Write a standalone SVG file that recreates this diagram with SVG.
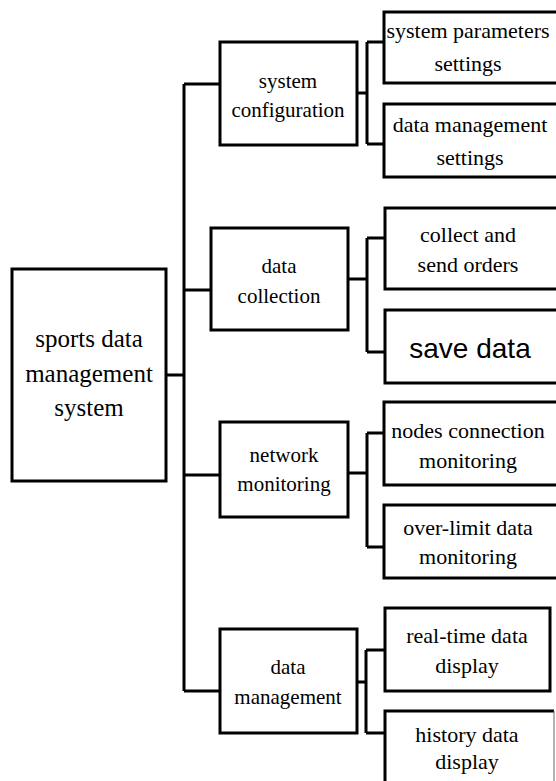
<svg xmlns="http://www.w3.org/2000/svg" width="556" height="781" viewBox="0 0 556 781">
<style>
.box{fill:#fff;stroke:#000;stroke-width:3}
.ln{fill:none;stroke:#000;stroke-width:3}
.t{font-family:'Liberation Serif','Times New Roman','DejaVu Serif',serif;fill:#000;text-anchor:middle}
.root{font-size:25px}
.mid{font-size:21px}
.leaf{font-size:22px}
.sans{font-family:'Liberation Sans',Arial,sans-serif;font-size:28px}
</style>
<rect width="556" height="781" fill="#fff"/>
<g id="connectors">
<path class="ln" d="M166 375H184M184 84V691M184 84H220M184 290H211M184 475H220M184 691H220"/>
<path class="ln" d="M357 93H367M367 42V144M367 42H384M367 144H384"/>
<path class="ln" d="M348 279H367M367 238V352M367 238H385M367 352H385"/>
<path class="ln" d="M348 473H367M367 433V547M367 433H384M367 547H384"/>
<path class="ln" d="M357 682H366M366 650V733M366 650H385M366 733H385"/>
</g>
<g id="root" class="t" font-family="Liberation Serif, serif">
<rect class="box" x="12" y="269" width="154" height="212"/>
<text class="root" x="89" y="347">sports data</text>
<text class="root" x="89" y="382">management</text>
<text class="root" x="89" y="416">system</text>
</g>
<g id="system-configuration" class="t" font-family="Liberation Serif, serif">
<rect class="box" x="220" y="42" width="137" height="103"/>
<text class="mid" x="288" y="88">system</text>
<text class="mid" x="288" y="117">configuration</text>
</g>
<g id="data-collection" class="t" font-family="Liberation Serif, serif">
<rect class="box" x="211" y="228" width="137" height="102"/>
<text class="mid" x="279" y="273">data</text>
<text class="mid" x="279" y="303">collection</text>
</g>
<g id="network-monitoring" class="t" font-family="Liberation Serif, serif">
<rect class="box" x="220" y="422" width="128" height="95"/>
<text class="mid" x="284" y="462">network</text>
<text class="mid" x="284" y="491">monitoring</text>
</g>
<g id="data-management" class="t" font-family="Liberation Serif, serif">
<rect class="box" x="220" y="629" width="137" height="104"/>
<text class="mid" x="288" y="674">data</text>
<text class="mid" x="288" y="704">management</text>
</g>
<g id="system-parameters-settings" class="t" font-family="Liberation Serif, serif">
<rect class="box" x="384" y="12" width="180" height="71"/>
<text class="leaf" x="468" y="38">system parameters</text>
<text class="leaf" x="468" y="71">settings</text>
</g>
<g id="data-management-settings" class="t" font-family="Liberation Serif, serif">
<rect class="box" x="384" y="104" width="180" height="73"/>
<text class="leaf" x="470" y="132">data management</text>
<text class="leaf" x="470" y="165">settings</text>
</g>
<g id="collect-and-send-orders" class="t" font-family="Liberation Serif, serif">
<rect class="box" x="385" y="208" width="180" height="81"/>
<text class="leaf" x="468" y="242">collect and</text>
<text class="leaf" x="468" y="272">send orders</text>
</g>
<g id="save-data" class="t">
<rect class="box" x="385" y="310" width="180" height="73"/>
<text class="sans" x="470" y="358">save data</text>
</g>
<g id="nodes-connection-monitoring" class="t" font-family="Liberation Serif, serif">
<rect class="box" x="384" y="402" width="180" height="83"/>
<text class="leaf" x="468" y="438">nodes connection</text>
<text class="leaf" x="468" y="468">monitoring</text>
</g>
<g id="over-limit-data-monitoring" class="t" font-family="Liberation Serif, serif">
<rect class="box" x="384" y="505" width="180" height="73"/>
<text class="leaf" x="468" y="535">over-limit data</text>
<text class="leaf" x="468" y="564">monitoring</text>
</g>
<g id="real-time-data-display" class="t" font-family="Liberation Serif, serif">
<rect class="box" x="385" y="608" width="165" height="83"/>
<text class="leaf" x="467" y="643">real-time data</text>
<text class="leaf" x="467" y="673">display</text>
</g>
<g id="history-data-display" class="t" font-family="Liberation Serif, serif">
<rect x="385" y="711" width="169" height="80" fill="#fff" stroke="none"/>
<path class="ln" d="M385 795V711H554"/>
<path d="M554 711V781" stroke="#666" stroke-width="1" fill="none"/>
<text class="leaf" x="467" y="742">history data</text>
<text class="leaf" x="467" y="769">display</text>
</g>
</svg>
